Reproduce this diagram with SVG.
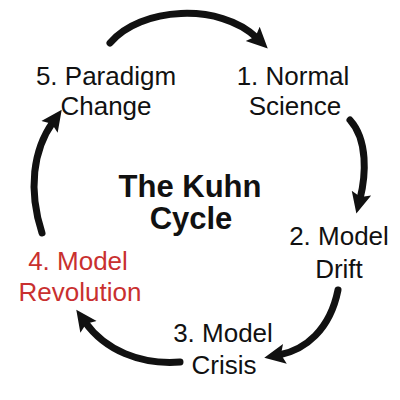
<svg xmlns="http://www.w3.org/2000/svg" width="400" height="400" viewBox="0 0 400 400">
<defs>
<style>
.lbl{font-family:"Liberation Sans",Arial,sans-serif;font-size:26px;fill:#111;text-anchor:middle}
.red{fill:#c9302f}
.title{font-family:"Liberation Sans",Arial,sans-serif;font-size:31px;font-weight:bold;fill:#111;text-anchor:middle}
.arc{fill:none;stroke:#111;stroke-width:7;stroke-linecap:round;marker-end:url(#ah)}
</style>
<marker id="ah" markerUnits="userSpaceOnUse" markerWidth="22" markerHeight="22" refX="6" refY="10" orient="auto" viewBox="0 0 22 20">
<path d="M0,0 L21,10 L0,20 L4,10 z" fill="#111"/>
</marker>
</defs>
<rect width="400" height="400" fill="#fff"/>
<g id="connectors">
<path class="arc" d="M110,43 C140,7 220,2 257,38"/>
<path class="arc" d="M350,120 C368,140 366,175 360,199"/>
<path class="arc" d="M338,290 C330,330 305,350 279,355"/>
<path class="arc" d="M180,362 C140,365 105,350 85,322"/>
<path class="arc" d="M42,233 C28,190 33,150 53,122"/>
</g>
<g id="title"><text class="title" x="190" y="197">The Kuhn</text><text class="title" x="191" y="229">Cycle</text></g>
<g id="n1"><text class="lbl" x="293" y="85">1. Normal</text><text class="lbl" x="295" y="115">Science</text></g>
<g id="n2"><text class="lbl" x="339" y="245">2. Model</text><text class="lbl" x="339" y="278">Drift</text></g>
<g id="n3"><text class="lbl" x="223" y="342">3. Model</text><text class="lbl" x="224" y="374">Crisis</text></g>
<g id="n4"><text class="lbl red" x="78" y="270">4.  Model</text><text class="lbl red" x="80" y="301">Revolution</text></g>
<g id="n5"><text class="lbl" x="106" y="85">5. Paradigm</text><text class="lbl" x="106" y="115">Change</text></g>
</svg>
